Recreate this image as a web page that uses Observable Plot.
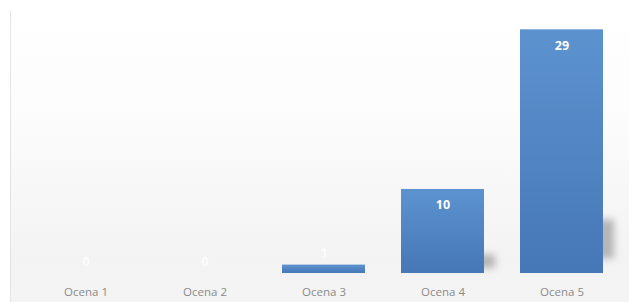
<!DOCTYPE html>
<html>
<head>
<meta charset="utf-8">
<script src="https://cdn.jsdelivr.net/npm/d3@7"></script>
<script src="https://cdn.jsdelivr.net/npm/@observablehq/plot@0.6"></script>
<style>
  html, body { margin: 0; padding: 0; background: #ffffff; }
  #wrap { position: relative; width: 629px; height: 302px; overflow: hidden; }
  #bg { position: absolute; left: 10px; top: 10px; width: 619px; height: 292px;
        background: linear-gradient(to bottom, #ffffff 0%, #fcfcfc 35%, #f3f3f3 85%, #f4f4f4 100%);
        border-left: 1.5px solid #e4e4e4; }
  #chart { position: absolute; left: 0; top: 0; }
</style>
</head>
<body>
<div id="wrap"><div id="bg"></div><div id="chart"></div></div>
<script>
const categories = ["Ocena 1", "Ocena 2", "Ocena 3", "Ocena 4", "Ocena 5"];
const values = [0, 0, 1, 10, 29];

const data = categories.map((c, i) => ({category: c, value: values[i]}));

const plot = Plot.plot({
  width: 629,
  height: 302,
  marginLeft: 20,
  marginRight: 2,
  marginTop: 10,
  marginBottom: 29,
  style: {background: "transparent", fontFamily: "Open Sans"},
  x: {domain: categories, paddingInner: 0.3, paddingOuter: 0.2, label: null},
  y: {domain: [0, 31.3], axis: null},
  marks: [
    Plot.rectY(data.filter(d => d.value >= 5), {
      x: "category", y1: d => d.value * 0.06, y2: d => d.value * 0.22, dx: 11,
      fill: "#9a9a9a", fillOpacity: 0.7
    }),
    Plot.barY(data, {x: "category", y: "value", fill: "url(#barGrad)"}),
    Plot.text(data.filter(d => d.value >= 5), {
      x: "category", y: "value", text: d => String(d.value), dy: 16,
      fill: "white", fontWeight: "bold", fontSize: 12.5
    }),
    Plot.text(data.filter(d => d.value < 5), {
      x: "category", y: "value", text: d => String(d.value), dy: -12,
      fill: "white", fillOpacity: 0.7, fontWeight: "bold", fontSize: 12.5
    }),
    Plot.axisX({tickSize: 0, tickPadding: 14, fontSize: 11.5, fill: "#8a8a8a", label: null})
  ]
});

const ns = "http://www.w3.org/2000/svg";
const defs = document.createElementNS(ns, "defs");
defs.innerHTML = `
  <linearGradient id="barGrad" x1="0" y1="0" x2="0" y2="1">
    <stop offset="0%" stop-color="#5c93cf"/>
    <stop offset="100%" stop-color="#4677b7"/>
  </linearGradient>`;
plot.insertBefore(defs, plot.firstChild);
plot.querySelectorAll("rect").forEach(r => {
  if (r.parentNode.getAttribute("fill") === "#9a9a9a" || r.getAttribute("fill") === "#9a9a9a") {
    r.parentNode.style.filter = "blur(3.5px)";
  }
});
document.getElementById("chart").appendChild(plot);
</script>
</body>
</html>
